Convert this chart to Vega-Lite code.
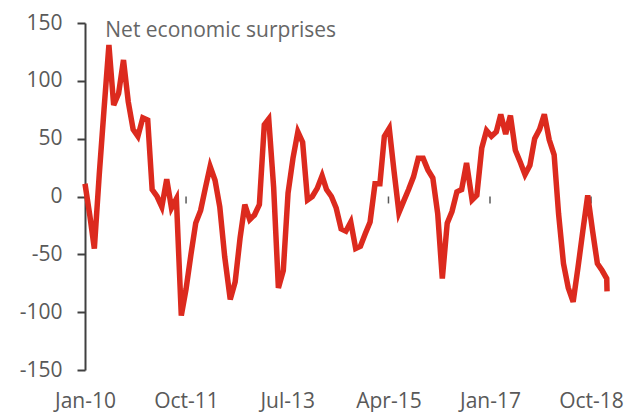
{
  "$schema": "https://vega.github.io/schema/vega-lite/v6.json",
  "width": 526,
  "height": 347,
  "autosize": "none",
  "padding": {"left": 85, "top": 23, "right": 16, "bottom": 42},
  "background": "white",
  "config": {"view": {"stroke": null}, "font": "Open Sans"},
  "datasets": {
    "series": [
      {"date": "2010-01-01T00:00", "value": 11},
      {"date": "2010-02-01T00:00", "value": -17},
      {"date": "2010-03-01T00:00", "value": -45},
      {"date": "2010-04-01T00:00", "value": 19},
      {"date": "2010-05-01T00:00", "value": 75},
      {"date": "2010-06-01T00:00", "value": 131},
      {"date": "2010-07-01T00:00", "value": 79},
      {"date": "2010-08-01T00:00", "value": 89},
      {"date": "2010-09-01T00:00", "value": 118},
      {"date": "2010-10-01T00:00", "value": 82},
      {"date": "2010-11-01T00:00", "value": 58},
      {"date": "2010-12-01T00:00", "value": 52},
      {"date": "2011-01-01T00:00", "value": 68},
      {"date": "2011-02-01T00:00", "value": 66},
      {"date": "2011-03-01T00:00", "value": 6},
      {"date": "2011-04-01T00:00", "value": 0},
      {"date": "2011-05-01T00:00", "value": -9},
      {"date": "2011-06-01T00:00", "value": 15},
      {"date": "2011-07-01T00:00", "value": -10},
      {"date": "2011-08-01T00:00", "value": -2},
      {"date": "2011-09-01T00:00", "value": -103},
      {"date": "2011-10-01T00:00", "value": -80},
      {"date": "2011-11-01T00:00", "value": -50},
      {"date": "2011-12-01T00:00", "value": -23},
      {"date": "2012-01-01T00:00", "value": -12},
      {"date": "2012-02-01T00:00", "value": 8},
      {"date": "2012-03-01T00:00", "value": 26},
      {"date": "2012-04-01T00:00", "value": 14},
      {"date": "2012-05-01T00:00", "value": -9},
      {"date": "2012-06-01T00:00", "value": -52},
      {"date": "2012-07-06T00:00", "value": -89},
      {"date": "2012-08-06T00:00", "value": -74},
      {"date": "2012-09-06T00:00", "value": -36},
      {"date": "2012-10-06T00:00", "value": -7},
      {"date": "2012-11-06T00:00", "value": -20},
      {"date": "2012-12-06T00:00", "value": -16},
      {"date": "2013-01-06T00:00", "value": -7},
      {"date": "2013-02-06T00:00", "value": 62},
      {"date": "2013-03-06T00:00", "value": 67},
      {"date": "2013-04-06T00:00", "value": 8},
      {"date": "2013-05-06T00:00", "value": -79},
      {"date": "2013-06-06T00:00", "value": -64},
      {"date": "2013-07-06T00:00", "value": 3},
      {"date": "2013-08-06T00:00", "value": 33},
      {"date": "2013-09-06T00:00", "value": 56},
      {"date": "2013-10-06T00:00", "value": 47},
      {"date": "2013-11-06T00:00", "value": -3},
      {"date": "2013-12-06T00:00", "value": 0},
      {"date": "2014-01-06T00:00", "value": 7},
      {"date": "2014-02-06T00:00", "value": 18},
      {"date": "2014-03-06T00:00", "value": 6},
      {"date": "2014-04-06T00:00", "value": 0},
      {"date": "2014-05-06T00:00", "value": -10},
      {"date": "2014-06-06T00:00", "value": -28},
      {"date": "2014-07-06T00:00", "value": -30},
      {"date": "2014-08-06T00:00", "value": -22},
      {"date": "2014-09-06T00:00", "value": -45},
      {"date": "2014-10-06T00:00", "value": -43},
      {"date": "2014-11-06T00:00", "value": -32},
      {"date": "2014-12-06T00:00", "value": -22},
      {"date": "2015-01-06T00:00", "value": 11},
      {"date": "2015-02-06T00:00", "value": 11},
      {"date": "2015-03-06T00:00", "value": 52},
      {"date": "2015-04-06T00:00", "value": 59},
      {"date": "2015-05-06T00:00", "value": 22},
      {"date": "2015-06-06T00:00", "value": -14},
      {"date": "2015-07-06T00:00", "value": -4},
      {"date": "2015-08-06T00:00", "value": 6},
      {"date": "2015-09-06T00:00", "value": 17},
      {"date": "2015-10-06T00:00", "value": 33},
      {"date": "2015-11-06T00:00", "value": 33},
      {"date": "2015-12-06T00:00", "value": 23},
      {"date": "2016-01-06T00:00", "value": 16},
      {"date": "2016-02-06T00:00", "value": -15},
      {"date": "2016-03-06T00:00", "value": -71},
      {"date": "2016-04-06T00:00", "value": -23},
      {"date": "2016-05-06T00:00", "value": -13},
      {"date": "2016-06-06T00:00", "value": 4},
      {"date": "2016-07-06T00:00", "value": 6},
      {"date": "2016-08-06T00:00", "value": 29},
      {"date": "2016-09-10T00:00", "value": -3},
      {"date": "2016-10-10T00:00", "value": 1},
      {"date": "2016-11-10T00:00", "value": 42},
      {"date": "2016-12-10T00:00", "value": 57},
      {"date": "2017-01-10T00:00", "value": 52},
      {"date": "2017-02-10T00:00", "value": 56},
      {"date": "2017-03-10T00:00", "value": 71},
      {"date": "2017-04-10T00:00", "value": 54},
      {"date": "2017-05-10T00:00", "value": 70},
      {"date": "2017-06-10T00:00", "value": 40},
      {"date": "2017-07-10T00:00", "value": 30},
      {"date": "2017-08-10T00:00", "value": 19},
      {"date": "2017-09-10T00:00", "value": 27},
      {"date": "2017-10-10T00:00", "value": 50},
      {"date": "2017-11-10T00:00", "value": 58},
      {"date": "2017-12-10T00:00", "value": 71},
      {"date": "2018-01-10T00:00", "value": 49},
      {"date": "2018-02-10T00:00", "value": 36},
      {"date": "2018-03-10T00:00", "value": -15},
      {"date": "2018-04-10T00:00", "value": -58},
      {"date": "2018-05-10T00:00", "value": -79},
      {"date": "2018-06-10T00:00", "value": -91},
      {"date": "2018-07-10T00:00", "value": -62},
      {"date": "2018-08-10T00:00", "value": -30},
      {"date": "2018-09-10T00:00", "value": 1},
      {"date": "2018-10-10T00:00", "value": -29},
      {"date": "2018-11-10T00:00", "value": -58},
      {"date": "2018-12-10T00:00", "value": -64},
      {"date": "2019-01-08T00:00", "value": -71},
      {"date": "2019-01-10T00:00", "value": -82}
    ],
    "ticks": [
      {"date": "2011-10-01T00:00"},
      {"date": "2013-07-01T00:00"},
      {"date": "2015-04-01T00:00"},
      {"date": "2017-01-01T00:00"},
      {"date": "2018-10-01T00:00"}
    ],
    "label": [
      {"date": "2010-05-09T00:00", "value": 138, "text": "Net economic surprises"}
    ]
  },
  "layer": [
    {
      "data": {"name": "ticks"},
      "mark": {"type": "rule", "color": "#5a5a5a", "strokeWidth": 1.5},
      "encoding": {
        "x": {"field": "date", "type": "temporal"},
        "y": {"datum": 0},
        "y2": {"datum": -6}
      }
    },
    {
      "mark": {"type": "rule", "color": "#404040", "strokeWidth": 2.5},
      "encoding": {"y": {"datum": 0}}
    },
    {
      "data": {"name": "series"},
      "mark": {"type": "line", "color": "#dc2a1e", "strokeWidth": 5.5},
      "encoding": {
        "x": {
          "field": "date",
          "type": "temporal",
          "scale": {"domain": [{"year": 2010, "month": 1, "date": 1}, {"year": 2019, "month": 2, "date": 4}]},
          "axis": {
            "values": [
              {"year": 2010, "month": 1, "date": 1},
              {"year": 2011, "month": 10, "date": 1},
              {"year": 2013, "month": 7, "date": 1},
              {"year": 2015, "month": 4, "date": 1},
              {"year": 2017, "month": 1, "date": 1},
              {"year": 2018, "month": 10, "date": 1}
            ],
            "format": "%b-%y",
            "domain": false,
            "ticks": false,
            "tickSize": 0,
            "grid": false,
            "labelPadding": 20,
            "labelFontSize": 21,
            "labelColor": "#595959",
            "labelFlush": false,
            "labelOverlap": false,
            "title": null
          }
        },
        "y": {
          "field": "value",
          "type": "quantitative",
          "scale": {"domain": [-150, 150], "nice": false, "zero": false},
          "axis": {
            "values": [-150, -100, -50, 0, 50, 100, 150],
            "labelExpr": "datum.value",
            "domain": true,
            "domainColor": "#404040",
            "domainWidth": 2,
            "tickColor": "#404040",
            "tickWidth": 2,
            "tickSize": 8,
            "grid": false,
            "labelPadding": 15,
            "labelFontSize": 21,
            "labelColor": "#595959",
            "title": null
          }
        }
      }
    },
    {
      "data": {"name": "label"},
      "mark": {"type": "text", "align": "left", "baseline": "alphabetic", "fontSize": 21, "color": "#666666"},
      "encoding": {
        "x": {"field": "date", "type": "temporal"},
        "y": {"field": "value", "type": "quantitative"},
        "text": {"field": "text"}
      }
    }
  ]
}
